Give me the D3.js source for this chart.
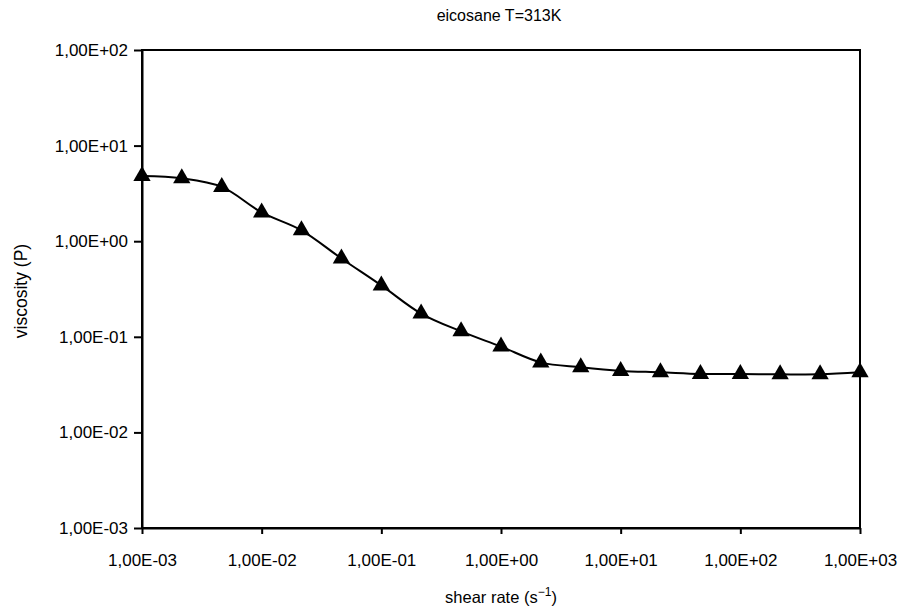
<!DOCTYPE html>
<html>
<head>
<meta charset="utf-8">
<script src="https://cdn.jsdelivr.net/npm/d3@7"></script>
<style>
  body { margin: 0; background: #fff; }
  text { font-family: "Liberation Sans", Arial, sans-serif; fill: #000; }
</style>
</head>
<body>
<div id="chart"></div>
<script>
const width = 907;
const height = 613;
const margin = { top: 50, right: 47, bottom: 85, left: 142 };

const chartTitle = "eicosane T=313K";
// shear rate (1/s), third-decade steps
const shearRate = [0.001, 0.00215, 0.00464, 0.01, 0.0215, 0.0464, 0.1, 0.215, 0.464,
                   1, 2.15, 4.64, 10, 21.5, 46.4, 100, 215, 464, 1000];
// viscosity (P)
const viscosity = [4.8, 4.55, 3.7, 2.0, 1.3, 0.66, 0.345, 0.175, 0.114,
                   0.079, 0.054, 0.048, 0.044, 0.0425, 0.0408, 0.0408, 0.0405, 0.0405, 0.0425];
const xTicks = [1e-3, 1e-2, 1e-1, 1e0, 1e1, 1e2, 1e3];
const yTicks = [1e-3, 1e-2, 1e-1, 1e0, 1e1, 1e2];

const data = shearRate.map((d, i) => ({ x: d, y: viscosity[i] }));

const svg = d3.select("#chart").append("svg").attr("width", width).attr("height", height);

const x = d3.scaleLog().domain([1e-3, 1e3]).range([margin.left, width - margin.right]);
const y = d3.scaleLog().domain([1e-3, 1e2]).range([height - margin.bottom, margin.top]);

// Excel style "1,00E+02"
function sci(v) {
  let e = Math.round(Math.log10(v));
  let s = e < 0 ? "-" : "+";
  return "1,00E" + s + String(Math.abs(e)).padStart(2, "0");
}

// frame
svg.append("rect")
  .attr("x", x.range()[0]).attr("y", y.range()[1])
  .attr("width", x.range()[1] - x.range()[0])
  .attr("height", y.range()[0] - y.range()[1])
  .attr("fill", "none").attr("stroke", "#000").attr("stroke-width", 2);

const xAxis = svg.append("g")
  .attr("transform", "translate(0," + (height - margin.bottom) + ")")
  .call(d3.axisBottom(x).tickValues(xTicks).tickFormat(sci).tickSize(6).tickSizeOuter(0).tickPadding(20));
const yAxis = svg.append("g")
  .attr("transform", "translate(" + margin.left + ",0)")
  .call(d3.axisLeft(y).tickValues(yTicks).tickFormat(sci).tickSize(8).tickSizeOuter(0).tickPadding(6));

[xAxis, yAxis].forEach(a => {
  a.select(".domain").attr("stroke", "#000").attr("stroke-width", 2);
  a.selectAll(".tick line").attr("stroke", "#000").attr("stroke-width", 2);
  a.selectAll(".tick text").attr("font-size", 17).attr("font-family", "Liberation Sans, Arial, sans-serif").attr("fill", "#000");
});

// smoothed line
const line = d3.line().x(d => x(d.x)).y(d => y(d.y)).curve(d3.curveCatmullRom.alpha(0.5));
svg.append("path").datum(data)
  .attr("d", line)
  .attr("fill", "none").attr("stroke", "#000").attr("stroke-width", 2);

// triangle markers
const tri = d3.symbol().type(d3.symbolTriangle).size(130);
svg.selectAll(".marker").data(data).enter().append("path")
  .attr("class", "marker")
  .attr("d", tri)
  .attr("transform", d => "translate(" + x(d.x) + "," + y(d.y) + ")")
  .attr("fill", "#000");

// titles
svg.append("text").attr("x", 499).attr("y", 21).attr("text-anchor", "middle")
  .attr("font-size", 16).text(chartTitle);

const xt = svg.append("text").attr("x", 501).attr("y", 603).attr("text-anchor", "middle").attr("font-size", 16.5);
xt.append("tspan").text("shear rate (s");
xt.append("tspan").attr("dy", -7).attr("font-size", 12).text("\u22121");
xt.append("tspan").attr("dy", 7).text(")");

svg.append("text")
  .attr("transform", "translate(27,291) rotate(-90)")
  .attr("text-anchor", "middle").attr("font-size", 17.5)
  .text("viscosity (P)");
</script>
</body>
</html>
